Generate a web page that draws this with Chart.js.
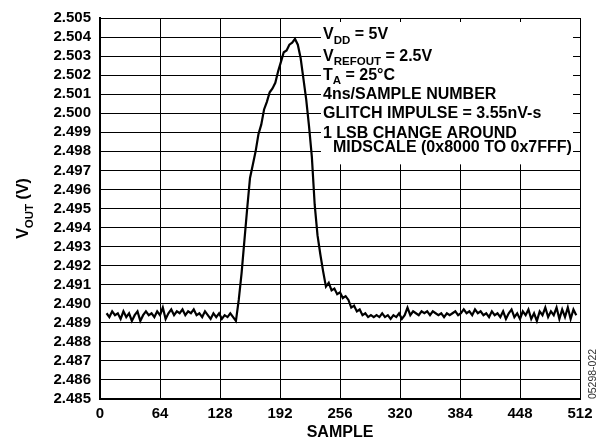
<!DOCTYPE html>
<html>
<head>
<meta charset="utf-8">
<script src="https://cdn.jsdelivr.net/npm/chart.js@4/dist/chart.umd.min.js"></script>
<style>
  html, body { margin: 0; padding: 0; background: #fff; }
  #wrap { width: 607px; height: 443px; position: relative; }
</style>
</head>
<body>
<div id="wrap"><canvas id="glitch"></canvas></div>
<script>
// sample index axis: first captured sample and spacing between readings
const sampleStart = 7;
const sampleStep = 3;
const sampleTicks = [0, 64, 128, 192, 256, 320, 384, 448, 512];
const voutTicks = [2.485, 2.486, 2.487, 2.488, 2.489, 2.490, 2.491, 2.492, 2.493, 2.494, 2.495,
                   2.496, 2.497, 2.498, 2.499, 2.500, 2.501, 2.502, 2.503, 2.504, 2.505];

// VOUT readings (V), one per sampleStep
const vout = [
  // baseline before the code change
  2.4895, 2.4893, 2.4896, 2.4894, 2.4895, 2.4892, 2.4896, 2.4893, 2.4895, 2.4891,
  2.4894, 2.4896, 2.4891, 2.4894, 2.4896, 2.4894, 2.4895, 2.4893, 2.4896, 2.4894,
  2.4898, 2.4892, 2.4895, 2.4897, 2.4894, 2.4896, 2.4895, 2.4897, 2.4894, 2.4896,
  2.4895, 2.4897, 2.4894, 2.4895, 2.4893, 2.4896, 2.4894, 2.4892, 2.4895, 2.4893,
  2.4895, 2.4892, 2.4894, 2.4893, 2.4895,
  // glitch
  2.4893, 2.4891, 2.4902, 2.4916, 2.4933, 2.4950, 2.4966, 2.4973, 2.4980, 2.4989,
  2.4994, 2.5002, 2.5006, 2.5011, 2.5013, 2.5016, 2.5022, 2.5027, 2.5032, 2.5033,
  2.5036, 2.5037, 2.5039, 2.5036, 2.5029, 2.5018, 2.5007, 2.4993, 2.4977, 2.4952,
  2.4936, 2.4926, 2.4917, 2.4909, 2.4911, 2.4907, 2.4908, 2.4905, 2.4906, 2.4903,
  2.4904, 2.4902, 2.4898, 2.4899, 2.4896, 2.4897, 2.4894, 2.4895, 2.4893,
  // settled again
  2.4894, 2.4893, 2.4894, 2.4893, 2.4895, 2.4893, 2.4894, 2.4892, 2.4894, 2.4893,
  2.4895, 2.4892, 2.4894, 2.4898, 2.4894, 2.4896, 2.4895, 2.4894, 2.4896, 2.4895,
  2.4896, 2.4894, 2.4896, 2.4895, 2.4894, 2.4895, 2.4893, 2.4895, 2.4894, 2.4895,
  2.4896, 2.4894, 2.4895, 2.4897, 2.4895, 2.4896, 2.4894, 2.4897, 2.4895, 2.4896,
  2.4894, 2.4895, 2.4893, 2.4896, 2.4894, 2.4895, 2.4893, 2.4896, 2.4892, 2.4895,
  2.4897, 2.4893, 2.4895, 2.4892, 2.4896, 2.4894, 2.4897, 2.4892, 2.4895, 2.4891,
  2.4896, 2.4894, 2.4898, 2.4893, 2.4896, 2.4894, 2.4898, 2.4892, 2.4897, 2.4893,
  2.4898, 2.4892, 2.4897, 2.4894
];

const notes = [
  // [value of the grid row it sits on, y nudge, x nudge, parts]
  [2.504, -2, 0, [["V"], ["DD", 1], [" = 5V"]]],
  [2.503, 0, 0, [["V"], ["REFOUT", 1], [" = 2.5V"]]],
  [2.502, 0, 0, [["T"], ["A", 1], [" = 25°C"]]],
  [2.501, 0, 0, [["4ns/SAMPLE NUMBER"]]],
  [2.500, 0, 0, [["GLITCH IMPULSE = 3.55nV-s"]]],
  [2.499, 1, 0, [["1 LSB CHANGE AROUND"]]],
  [2.498, -4, 10, [["MIDSCALE (0x8000 TO 0x7FFF)"]]]
];

const FONT = '"Liberation Sans", Arial, Helvetica, sans-serif';

function drawParts(ctx, x, y, parts, size) {
  ctx.textBaseline = "middle";
  ctx.textAlign = "left";
  parts.forEach(p => {
    const sub = p[1];
    ctx.font = "bold " + (sub ? size * 0.72 : size) + "px " + FONT;
    ctx.fillText(p[0], x, sub ? y + size * 0.38 : y);
    x += ctx.measureText(p[0]).width;
  });
}

const overlay = {
  id: "overlay",
  beforeDatasetsDraw(chart) {
    const ctx = chart.ctx;
    const a = chart.chartArea;
    const ys = chart.scales.y;
    ctx.save();
    // white panel behind the conditions text
    ctx.fillStyle = "#fff";
    ctx.fillRect(321, a.top + 4, a.right - 7 - 321, ys.getPixelForValue(2.498) + 13 - a.top - 4);
    ctx.fillStyle = "#000";
    notes.forEach(n => {
      drawParts(ctx, 323 + n[2], ys.getPixelForValue(n[0]) + n[1], n[3], 16);
    });
    ctx.restore();
  },
  afterDraw(chart) {
    const ctx = chart.ctx;
    const a = chart.chartArea;
    ctx.save();
    ctx.fillStyle = "#000";
    ctx.textAlign = "center";
    ctx.textBaseline = "middle";
    ctx.font = "bold 16px " + FONT;
    ctx.fillText("SAMPLE", (a.left + a.right) / 2, 433);

    // y title, rotated, with subscript
    ctx.translate(24, (a.top + a.bottom) / 2);
    ctx.rotate(-Math.PI / 2);
    const parts = [["V"], ["OUT", 1], [" (V)"]];
    let w = 0;
    parts.forEach(p => {
      ctx.font = "bold " + (p[1] ? 11.5 : 16) + "px " + FONT;
      w += ctx.measureText(p[0]).width;
    });
    drawParts(ctx, -w / 2, 0, parts, 16);
    ctx.restore();

    ctx.save();
    ctx.fillStyle = "#333";
    ctx.font = "10.5px " + FONT;
    ctx.translate(593, 374);
    ctx.rotate(-Math.PI / 2);
    ctx.textAlign = "center";
    ctx.textBaseline = "middle";
    ctx.fillText("05298-022", 0, 0);
    ctx.restore();
  }
};

new Chart(document.getElementById("glitch"), {
  type: "line",
  data: {
    datasets: [{
      data: vout.map((v, i) => ({ x: sampleStart + i * sampleStep, y: v })),
      borderColor: "#000",
      borderWidth: 2.2,
      pointRadius: 0,
      tension: 0
    }]
  },
  options: {
    responsive: true,
    maintainAspectRatio: false,
    animation: false,
    layout: { padding: { top: 16, right: 27, left: 0, bottom: 0 } },
    plugins: { legend: { display: false }, tooltip: { enabled: false } },
    scales: {
      x: {
        type: "linear",
        min: 0,
        max: 512,
        afterFit: s => { s.height = 44; },
        afterBuildTicks: s => { s.ticks = sampleTicks.map(v => ({ value: v })); },
        grid: { color: "#000", lineWidth: 1, drawTicks: false },
        border: { color: "#000", width: 2 },
        ticks: {
          color: "#000",
          padding: 6,
          maxRotation: 0,
          autoSkip: false,
          font: { family: FONT, size: 15, weight: "bold" }
        }
      },
      y: {
        min: 2.485,
        max: 2.505,
        afterFit: s => { s.width = 100; },
        afterBuildTicks: s => { s.ticks = voutTicks.map(v => ({ value: v })); },
        grid: { color: "#000", lineWidth: 1, drawTicks: false },
        border: { color: "#000", width: 2 },
        ticks: {
          color: "#000",
          padding: 9,
          autoSkip: false,
          callback: v => v.toFixed(3),
          font: { family: FONT, size: 15, weight: "bold" }
        }
      }
    }
  },
  plugins: [overlay]
});
</script>
</body>
</html>
